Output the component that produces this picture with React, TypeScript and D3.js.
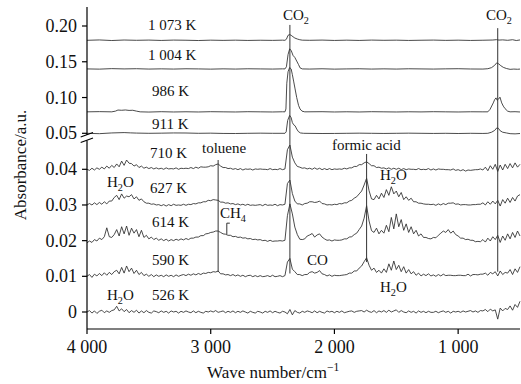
import React from "react";
import * as d3 from "d3";

const W = 521;
const H = 384;

// sampling grid of the dense (lower) spectra, cm-1, every 20 cm-1 from 4000 to 500
const GRID = d3.range(4000, 499, -20);

// lower spectra: absorbance above baseline in units of 1e-4, one value per GRID point
const S526 = [
  0, 4, -3, 3, -4, 2, 5, -2, 3, -1,
  4, 6, 16, 3, 9, 1, 7, -2, 4, -1,
  5, -3, 3, -2, 4, -1, -3, 3, 1, -2,
  3, -1, 2, -3, 3, 0, 2, -3, 2, -1,
  3, 0, -2, 3, -2, 2, -1, -3, 2, 0,
  3, 0, 4, -1, 1, 3, -2, 2, -1, 3,
  -2, 2, -1, 3, 0, -3, 2, -1, -3, 2,
  0, -3, 2, -1, 3, -2, 2, -1, -3, 2,
  0, -5, 7, -8, 4, -1, -3, 2, -1, 3,
  1, -2, 3, -2, 2, -1, -3, 3, 0, 2,
  -2, 2, -1, 3, -2, 0, 2, 3, -1, 2,
  3, 4, 0, 5, 1, -1, 4, -2, 3, 0,
  4, -1, 5, 0, 3, 6, -1, 4, 0, -2,
  3, -1, 2, -3, 3, -1, 2, -2, 2, -1,
  -1, 2, -2, 1, 3, -1, 2, -3, 2, 0,
  2, -1, 3, 0, 2, 4, 0, 3, -1, 4,
  3, 7, 1, 8, 3, 6, -20, 11, 3, 10,
  7, 17, 5, 21, 13, 30,
];

const S590 = [
  0, 5, -3, 6, 1, 8, 2, 10, 3, 11,
  5, 13, 17, 7, 25, 9, 29, 13, 23, 8,
  17, 5, 11, 2, 6, 0, 5, -1, 4, 0,
  3, -1, 4, 0, 3, -1, 4, 0, 3, 5,
  2, 6, 3, 7, 4, 8, 5, 9, 8, 11,
  10, 13, 12, 15, 7, 7, 4, 5, 2, 5,
  1, 4, 0, 3, -1, 2, 3, -1, 2, -1,
  2, -1, 0, 2, -1, 3, -1, 0, 2, -1,
  2, 40, 50, 20, 13, 5, 5, 2, 5, 5,
  11, 13, 9, 11, 16, 7, 5, 1, 4, 0,
  3, 2, 2, 3, 4, 5, 9, 9, 15, 15,
  23, 29, 41, 52, 31, 17, 23, 11, 17, 9,
  21, 11, 35, 17, 43, 19, 31, 13, 27, 9,
  19, 7, 13, 3, 9, 1, 6, 2, 7, 1,
  4, 0, 5, 1, 6, 2, 3, 3, 2, 2,
  3, 3, 2, 2, 6, 1, 5, 5, 4, 6,
  6, 9, 3, 11, 7, 13, 1, 15, 5, 11,
  9, 19, 5, 21, 11, 27,
];

const S614 = [
  -6, -1, -5, 3, -1, 7, 3, 11, 36, 11,
  9, 17, 31, 13, 39, 19, 41, 15, 35, 21,
  31, 11, 29, 9, 15, 5, 10, 3, 7, 1,
  5, 0, 4, -1, 3, 0, 4, 1, 5, 2,
  6, 3, 7, 7, 10, 10, 14, 14, 19, 20,
  23, 24, 27, 27, 23, 19, 18, 15, 15, 11,
  12, 9, 10, 7, 8, 5, 6, 3, 4, 2,
  3, 0, 1, -2, 1, -2, -1, -1, 0, -1,
  1, 70, 103, 75, 38, 17, 4, 3, 5, 13,
  16, 20, 10, 16, 19, 10, 5, 1, 2, -1,
  2, 1, 1, 2, 5, 5, 10, 11, 17, 21,
  31, 41, 63, 98, 55, 28, 23, 35, 19, 29,
  21, 43, 25, 65, 33, 75, 39, 59, 29, 47,
  23, 39, 19, 29, 13, 19, 9, 9, 6, 5,
  9, 8, 15, 21, 27, 23, 31, 21, 27, 17,
  13, 7, 7, 3, 4, 1, 1, -3, -2, -3,
  3, -4, 7, -1, 11, 3, 15, -5, 13, 1,
  19, 5, 23, 9, 27, 13,
];

const S627 = [
  0, 4, 0, 6, 1, 7, 2, 9, 3, 11,
  11, 21, 27, 15, 31, 19, 25, 23, 29, 17,
  23, 13, 17, 9, 5, 5, 2, 3, 0, 1,
  -2, 1, -3, 1, -2, 2, -1, 0, -1, 2,
  -1, 2, 1, 4, 3, 6, 6, 9, 9, 13,
  12, 15, 14, 13, 8, 8, 5, 6, 3, 4,
  1, 3, 0, 2, -1, 2, -1, 0, -1, 0,
  1, -2, 2, -1, 0, -1, 2, -2, 1, 0,
  2, 60, 70, 32, 11, 3, 3, 0, 4, 5,
  9, 9, 7, 8, 11, 4, 3, 0, 1, 0,
  2, 1, 4, 3, 6, 6, 11, 13, 19, 23,
  31, 39, 56, 75, 40, 17, 15, 27, 17, 33,
  21, 43, 27, 51, 31, 39, 23, 35, 15, 23,
  13, 19, 9, 9, 5, 5, 3, 2, 2, 1,
  2, -1, 3, 0, 4, 1, 5, 5, 6, 2,
  3, 0, 1, 1, 0, 0, 1, 1, 2, 2,
  6, 0, 9, 2, 11, 3, 13, -3, 15, 5,
  19, 7, 21, 11, 25, 29,
];

const S710 = [
  0, -3, 3, -2, 4, 0, 6, 1, 9, 3,
  11, 5, 15, 7, 23, 11, 26, 17, 16, 9,
  13, 5, 9, 3, 6, 2, 5, 1, 4, 1,
  3, 0, 4, 1, 2, 1, 4, 0, 3, 2,
  3, 2, 5, 2, 6, 3, 7, 6, 6, 7,
  10, 9, 13, 15, 9, 5, 5, 2, 3, 0,
  2, -1, 2, -2, 1, 0, 1, -2, 1, 0,
  1, 0, 0, -1, 2, -1, 0, -1, 2, -1,
  1, 55, 68, 34, 18, 8, 6, 3, 4, 1,
  3, 0, 4, 0, 3, -1, 2, -1, 2, -1,
  1, 0, 1, 0, 3, 1, 4, 4, 8, 8,
  13, 13, 18, 21, 16, 10, 10, 5, 6, 3,
  4, 1, 4, 0, 3, 0, 3, -1, 2, -1,
  1, 0, 0, -1, 2, -1, 0, -1, 2, -2,
  1, -2, 1, 0, 0, -1, -1, -2, 1, -3,
  -1, -4, -1, -5, -2, -3, -2, -1, -1, 1,
  -2, 6, -4, 10, 0, 14, -6, 12, -2, 14,
  2, 16, 4, 18, 6, 14,
];

// upper spectra: [wave number, absorbance above baseline in 1e-4]
const S911 = [[4000,0],[3900,-5],[3800,5],[3700,10],[3650,6],[3600,3],[3500,0],[3400,2],[3300,5],[3200,4],[3100,0],[3000,2],[2900,-2],[2800,-3],[2700,0],[2600,2],[2500,0],[2400,0],[2390,20],[2378,180],[2362,250],[2350,220],[2340,150],[2330,120],[2318,105],[2305,60],[2292,25],[2275,5],[2250,0],[2100,-3],[2000,-2],[1900,0],[1800,2],[1700,0],[1600,-2],[1500,0],[1400,2],[1300,0],[1200,-2],[1100,0],[1000,-3],[900,0],[800,-2],[760,0],[730,15],[705,40],[688,75],[675,70],[660,35],[640,15],[610,5],[580,-5],[540,-8],[500,-3]];

const S986 = [[4000,0],[3900,3],[3800,0],[3770,10],[3750,25],[3720,22],[3690,26],[3660,20],[3630,22],[3600,10],[3570,0],[3500,-3],[3400,2],[3300,-2],[3200,1],[3100,-2],[3000,2],[2900,0],[2800,-2],[2700,2],[2600,0],[2500,-2],[2420,1],[2400,0],[2392,40],[2385,400],[2375,560],[2362,620],[2350,600],[2340,520],[2330,430],[2318,320],[2305,200],[2290,90],[2278,40],[2262,10],[2240,0],[2100,2],[2000,-2],[1900,1],[1800,-2],[1700,2],[1600,0],[1500,-2],[1400,1],[1300,-1],[1200,2],[1100,0],[1000,-2],[900,1],[800,0],[760,0],[742,35],[716,125],[705,170],[694,195],[684,160],[675,175],[662,205],[648,125],[635,80],[621,45],[600,10],[580,0],[540,2],[500,-2]];

const S1004 = [[4000,0],[3900,-3],[3800,4],[3700,0],[3600,3],[3500,-2],[3400,1],[3300,-2],[3200,2],[3100,0],[3000,-3],[2900,1],[2800,-2],[2700,2],[2600,0],[2500,-2],[2420,1],[2400,0],[2388,30],[2375,200],[2362,280],[2350,260],[2335,190],[2320,160],[2305,110],[2290,60],[2278,15],[2260,0],[2200,-2],[2100,2],[2000,-3],[1900,0],[1800,2],[1700,-2],[1600,1],[1500,-2],[1400,2],[1300,0],[1200,-2],[1100,1],[1000,3],[900,-1],[800,-2],[760,3],[730,18],[705,50],[688,85],[672,70],[655,45],[635,22],[610,6],[580,-6],[550,-2],[520,-5],[500,-2]];

const S1073 = [[4000,0],[3900,5],[3800,-3],[3700,4],[3600,0],[3500,3],[3400,-2],[3300,3],[3200,1],[3100,-3],[3000,2],[2900,-1],[2800,2],[2700,-2],[2600,1],[2500,-1],[2420,2],[2400,0],[2388,15],[2375,70],[2362,80],[2350,70],[2335,50],[2320,32],[2300,18],[2280,8],[2260,2],[2200,0],[2100,3],[2000,-2],[1900,2],[1800,-2],[1700,3],[1600,0],[1500,2],[1400,-2],[1300,1],[1200,3],[1100,-1],[1000,2],[900,-2],[800,1],[720,4],[690,9],[670,3],[640,6],[600,0],[560,8],[530,-3],[500,5]];

const LOWER = [
  { name: "526 K", base: 0, values: S526 },
  { name: "590 K", base: 0.01, values: S590 },
  { name: "614 K", base: 0.02, values: S614 },
  { name: "627 K", base: 0.03, values: S627 },
  { name: "710 K", base: 0.04, values: S710 },
];
const UPPER = [
  { name: "911 K", base: 0.05, values: S911 },
  { name: "986 K", base: 0.08, values: S986 },
  { name: "1 004 K", base: 0.14, values: S1004 },
  { name: "1 073 K", base: 0.18, values: S1073 },
];

const X_TICKS = [4000, 3000, 2000, 1000];
const UPPER_TICKS = [0.05, 0.1, 0.15, 0.2];
const LOWER_TICKS = [0, 0.01, 0.02, 0.03, 0.04];

// band markers: wave number, top and bottom as [segment, absorbance]
const MARKERS = [
  { wn: 2360, top: ["u", 0.2015], bottom: ["l", 0.0108] },
  { wn: 680, top: ["u", 0.197], bottom: ["l", 0.0113] },
  { wn: 2940, top: ["l", 0.0426], bottom: ["l", 0.0112] },
  { wn: 1740, top: ["l", 0.0443], bottom: ["l", 0.014] },
];

const FONT = "'Liberation Serif', 'DejaVu Serif', 'Times New Roman', serif";

const x = d3.scaleLinear().domain([4000, 500]).range([87, 520]);
const yU = d3.scaleLinear().domain([0.05, 0.2]).range([133.3, 26]);
const yL = d3.scaleLinear().domain([0, 0.04]).range([312, 169.3]);
const ySeg = (s: string, v: number) => (s === "u" ? yU(v) : yL(v));

const line = d3.line<[number, number]>().x((d) => d[0]).y((d) => d[1]);

function Chem({ x: tx, y, parts, size = 15 }: any) {
  // parts: [text, "sub" | "sup" | null]
  return (
    <text x={tx} y={y} style={{ fontFamily: FONT }} fontSize={size} fill="#111">
      {parts.map((p: any, i: number) => {
        if (p[1] === "sub")
          return (
            <tspan key={i} fontSize={size * 0.68} dy={4}>
              {p[0]}
            </tspan>
          );
        if (p[1] === "sup")
          return (
            <tspan key={i} fontSize={size * 0.68} dy={-7}>
              {p[0]}
            </tspan>
          );
        const prev = parts[i - 1];
        const back = prev ? (prev[1] === "sub" ? -4 : prev[1] === "sup" ? 7 : 0) : 0;
        return (
          <tspan key={i} dy={back}>
            {p[0]}
          </tspan>
        );
      })}
    </text>
  );
}

export default function App() {
  const lowerPaths = LOWER.map((t) =>
    line(GRID.map((wn, i) => [x(wn), yL(t.base + t.values[i] * 1e-4)]))
  );
  const upperPaths = UPPER.map((t) =>
    line(t.values.map((d) => [x(d[0]), yU(t.base + d[1] * 1e-4)]))
  );

  const labels = [
    { t: "1 073 K", x: 148, y: 30 },
    { t: "1 004 K", x: 148, y: 60 },
    { t: "986 K", x: 152, y: 96 },
    { t: "911 K", x: 152, y: 129 },
    { t: "710 K", x: 150, y: 158 },
    { t: "toluene", x: 202, y: 153 },
    { t: "627 K", x: 150, y: 193 },
    { t: "614 K", x: 152, y: 227 },
    { t: "590 K", x: 152, y: 265 },
    { t: "526 K", x: 152, y: 300 },
    { t: "formic acid", x: 332, y: 150 },
    { t: "CO", x: 307, y: 265 },
  ];
  const chems = [
    { x: 283, y: 20, parts: [["CO", null], ["2", "sub"]] },
    { x: 486, y: 20, parts: [["CO", null], ["2", "sub"]] },
    { x: 107, y: 187, parts: [["H", null], ["2", "sub"], ["O", null]] },
    { x: 107, y: 300, parts: [["H", null], ["2", "sub"], ["O", null]] },
    { x: 380, y: 180, parts: [["H", null], ["2", "sub"], ["O", null]] },
    { x: 380, y: 292, parts: [["H", null], ["2", "sub"], ["O", null]] },
    { x: 220, y: 218, parts: [["CH", null], ["4", "sub"]] },
  ];

  const xCH4 = x(2870);

  return (
    <div style={{ position: "absolute", left: 0, top: 0 }}>
      <svg width={W} height={H} style={{ display: "block", background: "#fff" }}>
        {/* spectra */}
        <g fill="none" stroke="#2b2b2b" strokeWidth={0.85} strokeLinejoin="round">
          {lowerPaths.map((p, i) => (
            <path key={"l" + i} d={p || ""} />
          ))}
          {upperPaths.map((p, i) => (
            <path key={"u" + i} d={p || ""} />
          ))}
        </g>

        {/* band markers */}
        <g stroke="#333" strokeWidth={1}>
          {MARKERS.map((m, i) => (
            <line
              key={i}
              x1={x(m.wn)}
              x2={x(m.wn)}
              y1={ySeg(m.top[0] as string, m.top[1] as number)}
              y2={ySeg(m.bottom[0] as string, m.bottom[1] as number)}
            />
          ))}
          <line x1={xCH4} x2={xCH4} y1={yL(0.0249)} y2={yL(0.0218)} />
          <line x1={xCH4} x2={xCH4 + 3} y1={yL(0.0249)} y2={yL(0.0249)} />
        </g>

        {/* axes */}
        <g stroke="#000" strokeWidth={1.2} fill="none">
          <line x1={87} x2={87} y1={7} y2={135} />
          <line x1={87} x2={87} y1={140.5} y2={329} />
          <line x1={87} x2={520} y1={329} y2={329} />
          <line x1={80.7} y1={137} x2={93} y2={132.5} />
          <line x1={80.7} y1={142.5} x2={93} y2={138} />
          {X_TICKS.map((t) => (
            <line key={t} x1={x(t)} x2={x(t)} y1={329} y2={334} />
          ))}
          {UPPER_TICKS.map((t) => (
            <line key={t} x1={82} x2={87} y1={yU(t)} y2={yU(t)} />
          ))}
          {LOWER_TICKS.map((t) => (
            <line key={t} x1={82} x2={87} y1={yL(t)} y2={yL(t)} />
          ))}
        </g>
        <g style={{ fontFamily: FONT }} fontSize={18} fill="#111">
          {X_TICKS.map((t) => (
            <text key={t} x={x(t)} y={353} textAnchor="middle">
              {d3.format(",")(t).replace(",", " ")}
            </text>
          ))}
          {UPPER_TICKS.map((t) => (
            <text key={t} x={77} y={yU(t) + 6} textAnchor="end">
              {d3.format(".2f")(t)}
            </text>
          ))}
          {LOWER_TICKS.map((t) => (
            <text key={t} x={77} y={yL(t) + 6} textAnchor="end">
              {t === 0 ? "0" : d3.format(".2f")(t)}
            </text>
          ))}
        </g>

        {/* axis titles */}
        <text
          transform="translate(26,165) rotate(-90)"
          textAnchor="middle"
          style={{ fontFamily: FONT }}
          fontSize={17}
          fill="#111"
        >
          Absorbance/a.u.
        </text>
        <Chem x={207} y={378} size={17} parts={[["Wave number/cm", null], ["−1", "sup"]]} />

        {/* annotations */}
        <g style={{ fontFamily: FONT }} fontSize={15} fill="#111">
          {labels.map((l) => (
            <text key={l.t} x={l.x} y={l.y}>
              {l.t}
            </text>
          ))}
        </g>
        {chems.map((c, i) => (
          <Chem key={i} x={c.x} y={c.y} parts={c.parts} />
        ))}
      </svg>
    </div>
  );
}
